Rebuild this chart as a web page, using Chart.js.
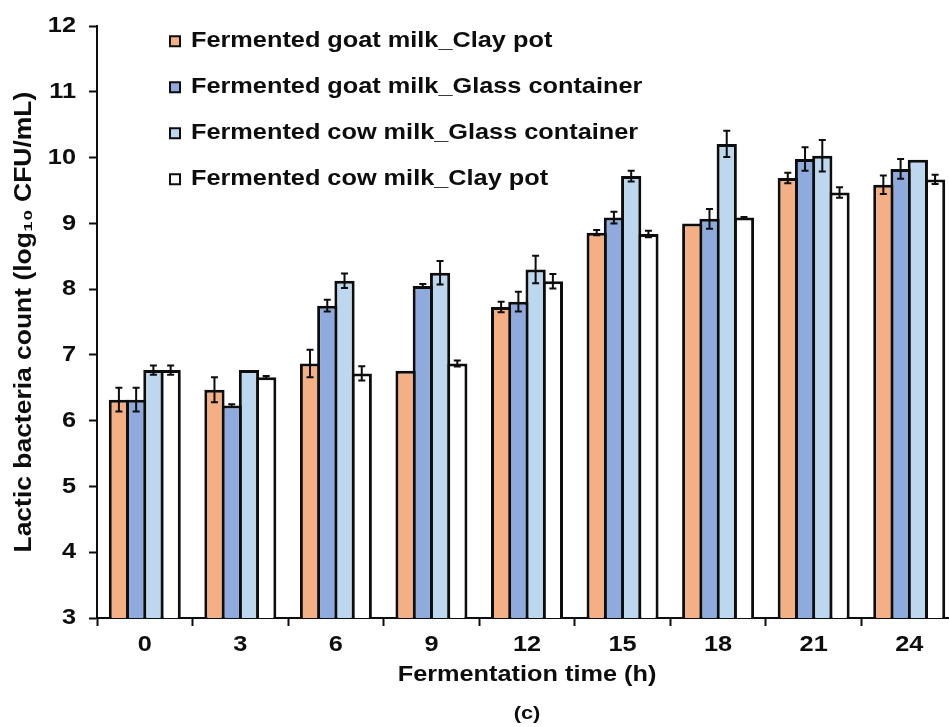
<!DOCTYPE html>
<html>
<head>
<meta charset="utf-8">
<script src="https://cdn.jsdelivr.net/npm/chart.js@4.4.1/dist/chart.umd.min.js"></script>
<style>
  html, body { margin: 0; padding: 0; background: #fff; overflow: hidden; width: 949px; height: 727px; }
  #wrap { position: absolute; left: 0; top: 0; width: 970px; height: 727px; }
</style>
</head>
<body>
<div id="wrap"><canvas id="c" width="970" height="727"></canvas></div>
<script>
// Fermentation time points (h)
const hours = ['0', '3', '6', '9', '12', '15', '18', '21', '24'];

const seriesNames = [
  'Fermented goat milk_Clay pot',
  'Fermented goat milk_Glass container',
  'Fermented cow milk_Glass container',
  'Fermented cow milk_Clay pot'
];

// Mean lactic bacteria counts, log10 CFU/mL
const goatClay  = [6.32, 6.47, 6.87, 6.76, 7.73, 8.86, 9.00, 9.69, 9.59];
const goatGlass = [6.32, 6.23, 7.75, 8.05, 7.81, 9.09, 9.07, 9.98, 9.83];
const cowGlass  = [6.77, 6.77, 8.13, 8.25, 8.30, 9.72, 10.21, 10.03, 9.97];
const cowClay   = [6.77, 6.66, 6.72, 6.87, 8.12, 8.84, 9.09, 9.47, 9.67];

// Standard deviations
const goatClayErr  = [0.18, 0.19, 0.21, 0, 0.08, 0.04, 0, 0.08, 0.14];
const goatGlassErr = [0.18, 0.02, 0.09, 0.03, 0.15, 0.09, 0.15, 0.18, 0.15];
const cowGlassErr  = [0.07, 0, 0.11, 0.18, 0.21, 0.08, 0.20, 0.24, 0];
const cowClayErr   = [0.07, 0.02, 0.11, 0.045, 0.11, 0.05, 0.01, 0.08, 0.07];

// Y axis range
const yMin = 3, yMax = 12, yStep = 1;

const FAMILY = "'Liberation Sans', Arial, Helvetica, sans-serif";
const INK = '#0d0d0d';
const fillColors = ['#F4B084', '#8FAADC', '#BDD7EE', '#FFFFFF'];

// Wide lettering: every label is drawn with a horizontal stretch about its anchor
const TEXT_STRETCH = 1.15;
const canvas = document.getElementById('c');
const ctx2d = canvas.getContext('2d');
const baseFillText = CanvasRenderingContext2D.prototype.fillText;
const baseMeasureText = CanvasRenderingContext2D.prototype.measureText;
ctx2d.fillText = function (text, x, y, maxWidth) {
  this.save();
  this.translate(x, y);
  this.scale(TEXT_STRETCH, 1);
  if (maxWidth === undefined) baseFillText.call(this, text, 0, 0);
  else baseFillText.call(this, text, 0, 0, maxWidth / TEXT_STRETCH);
  this.restore();
};
ctx2d.measureText = function (text) {
  const m = baseMeasureText.call(this, text);
  return {
    width: m.width * TEXT_STRETCH,
    actualBoundingBoxAscent: m.actualBoundingBoxAscent,
    actualBoundingBoxDescent: m.actualBoundingBoxDescent,
    actualBoundingBoxLeft: m.actualBoundingBoxLeft * TEXT_STRETCH,
    actualBoundingBoxRight: m.actualBoundingBoxRight * TEXT_STRETCH
  };
};

// Place the legend block in the upper-left part of the plot area
const legendPlacement = {
  id: 'legendPlacement',
  afterLayout(chart) {
    const lg = chart.legend;
    const area = chart.chartArea;
    lg.left = area.left + 49;
    lg.top = area.top - 20;
  }
};

// Whiskers with caps for the standard deviation of each bar
const errorBars = {
  id: 'errorBars',
  afterDatasetsDraw(chart) {
    const ctx = chart.ctx;
    const yScale = chart.scales.y;
    ctx.save();
    ctx.strokeStyle = INK;
    ctx.lineWidth = 2;
    chart.data.datasets.forEach((ds, i) => {
      const meta = chart.getDatasetMeta(i);
      meta.data.forEach((bar, j) => {
        const e = ds.errors[j];
        if (!e) return;
        const v = ds.data[j];
        const top = yScale.getPixelForValue(v + e);
        const bot = yScale.getPixelForValue(v - e);
        const x = bar.x;
        ctx.beginPath();
        ctx.moveTo(x, top); ctx.lineTo(x, bot);
        ctx.moveTo(x - 3.5, top); ctx.lineTo(x + 3.5, top);
        ctx.moveTo(x - 3.5, bot); ctx.lineTo(x + 3.5, bot);
        ctx.stroke();
      });
    });
    ctx.restore();
  }
};

const values = [goatClay, goatGlass, cowGlass, cowClay];
const errors = [goatClayErr, goatGlassErr, cowGlassErr, cowClayErr];

const datasets = seriesNames.map((name, i) => ({
  label: name,
  data: values[i],
  errors: errors[i],
  backgroundColor: fillColors[i],
  borderColor: INK,
  borderWidth: 3,
  categoryPercentage: 0.722,
  barPercentage: 1.174
}));

new Chart(canvas, {
  type: 'bar',
  data: { labels: hours, datasets },
  plugins: [legendPlacement, errorBars],
  options: {
    responsive: false,
    animation: false,
    layout: { padding: { left: 0, top: 24, right: 13, bottom: 0 } },
    plugins: {
      tooltip: { enabled: false },
      legend: {
        position: 'chartArea',
        align: 'start',
        labels: {
          boxWidth: 10,
          boxHeight: 10,
          padding: 24,
          color: INK,
          font: { family: FAMILY, size: 22, weight: 'bold' },
          generateLabels(chart) {
            return Chart.defaults.plugins.legend.labels.generateLabels(chart)
              .map(item => Object.assign(item, { lineWidth: 2, strokeStyle: INK }));
          }
        }
      },
      title: {
        display: true,
        text: '(c)',
        position: 'bottom',
        fullSize: false,
        color: INK,
        font: { family: FAMILY, size: 19, weight: 'bold', lineHeight: 1 },
        padding: { top: 14.5, bottom: 3.5 }
      }
    },
    scales: {
      x: {
        ticks: {
          color: INK,
          padding: 6,
          font: { family: FAMILY, size: 22, weight: 'bold', lineHeight: 1.2 }
        },
        grid: {
          offset: true,
          drawOnChartArea: false,
          tickLength: 8,
          tickWidth: 2,
          tickColor: INK,
          color: INK
        },
        border: { display: true, color: INK, width: 2 },
        title: {
          display: true,
          text: 'Fermentation time (h)',
          color: INK,
          font: { family: FAMILY, size: 22, weight: 'bold', lineHeight: 1 },
          padding: { top: 0, bottom: 4 }
        },
        afterFit(scale) { scale.height = 72; }
      },
      y: {
        min: yMin,
        max: yMax,
        ticks: {
          stepSize: yStep,
          color: INK,
          padding: 13,
          font: { family: FAMILY, size: 22, weight: 'bold' }
        },
        grid: {
          drawOnChartArea: false,
          tickLength: 8,
          tickWidth: 2,
          tickColor: INK,
          color: INK
        },
        border: { display: true, color: INK, width: 2 },
        title: {
          display: true,
          text: 'Lactic bacteria count (log₁₀ CFU/mL)',
          color: INK,
          font: { family: FAMILY, size: 23, weight: 'bold', lineHeight: 1 },
          padding: { top: 13.5, bottom: 0 }
        },
        afterFit(scale) { scale.width = 97; }
      }
    }
  }
});
</script>
</body>
</html>
